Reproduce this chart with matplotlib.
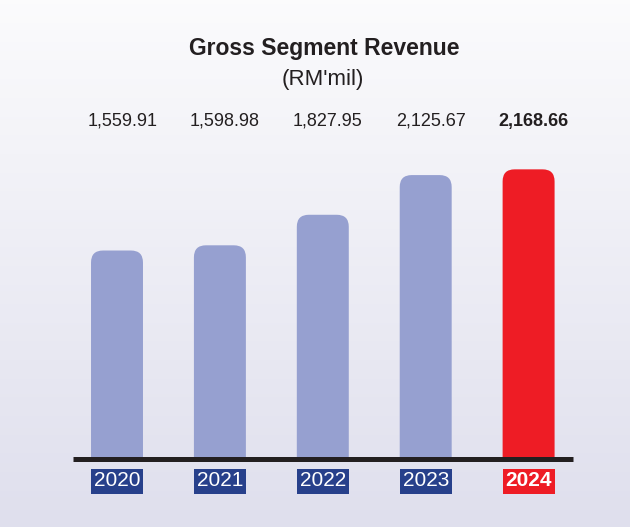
import matplotlib.pyplot as plt
import numpy as np
from matplotlib.patches import FancyBboxPatch, Rectangle
from matplotlib.transforms import blended_transform_factory

plt.rcParams['font.family'] = ['Liberation Sans', 'DejaVu Sans']

years = ['2020', '2021', '2022', '2023', '2024']
revenue = [1559.91, 1598.98, 1827.95, 2125.67, 2168.66]
value_labels = ['1,559.91', '1,598.98', '1,827.95', '2,125.67', '2,168.66']

bar_color = '#96a0d0'
hi_color = '#ee1c25'
box_color = '#27408b'

W, H = 630, 527
fig = plt.figure(figsize=(6.3, 5.27), dpi=100)

# background gradient
bg = fig.add_axes([0, 0, 1, 1])
top = np.array([0.985, 0.985, 0.99])
bot = np.array([0.875, 0.875, 0.93])
t = np.linspace(0, 1, 256)[:, None]
grad = top + (bot - top) * t
bg.imshow(grad[:, None, :], aspect='auto', extent=[0, 1, 0, 1])
bg.axis('off')

# axes placed so that x=0 -> 117px, step 102.9px; baseline at 458.5px
px_x = 102.9
xlim = (-0.45, 4.45)
left = 117 - 0.45 * px_x
ymax = 2680
per_px = 7.5  # data units per pixel (y)
base_px = 458.5
ax = fig.add_axes([left / W, (H - base_px) / H,
                   (xlim[1] - xlim[0]) * px_x / W, ymax / per_px / H])
ax.set_xlim(*xlim)
ax.set_ylim(0, ymax)
ax.axis('off')

x = np.arange(len(years))
width = 0.505
r = 12 / px_x
aspect = per_px * px_x
for i, v in enumerate(revenue):
    c = hi_color if i == len(years) - 1 else bar_color
    p = FancyBboxPatch((x[i] - width / 2, -300), width, v + 300,
                       boxstyle=f'round,pad=0,rounding_size={r}',
                       mutation_aspect=aspect, fc=c, ec='none')
    ax.add_patch(p)

# baseline
ax.plot([-0.425, 4.43], [0, 0], color='#231f20', lw=3.6,
        solid_capstyle='butt', clip_on=False)

# year boxes
for i, yr in enumerate(years):
    last = i == len(years) - 1
    c = hi_color if last else box_color
    ax.add_patch(Rectangle((x[i] - width / 2, -35 * per_px), width,
                           25 * per_px, fc=c, ec='none', clip_on=False))
    ax.text(x[i], -22.5 * per_px, yr, ha='center', va='center',
            color='white', fontsize=15,
            fontweight='bold' if last else 'normal')

# value labels
trans = blended_transform_factory(ax.transData, fig.transFigure)
for i, lab in enumerate(value_labels):
    last = i == len(years) - 1
    ax.text(x[i] + 0.05, 1 - 126 / H, lab, transform=trans,
            ha='center', va='baseline', fontsize=13, color='#231f20',
            fontweight='bold' if last else 'normal')

fig.text(324 / W, 1 - 54.5 / H, 'Gross Segment Revenue', ha='center',
         va='baseline', fontsize=16.5, fontweight='bold', color='#231f20')
fig.text(323 / W, 1 - 85 / H, "(RM'mil)", ha='center', va='baseline',
         fontsize=16, color='#231f20')

fig.savefig('out.png', dpi=100)
